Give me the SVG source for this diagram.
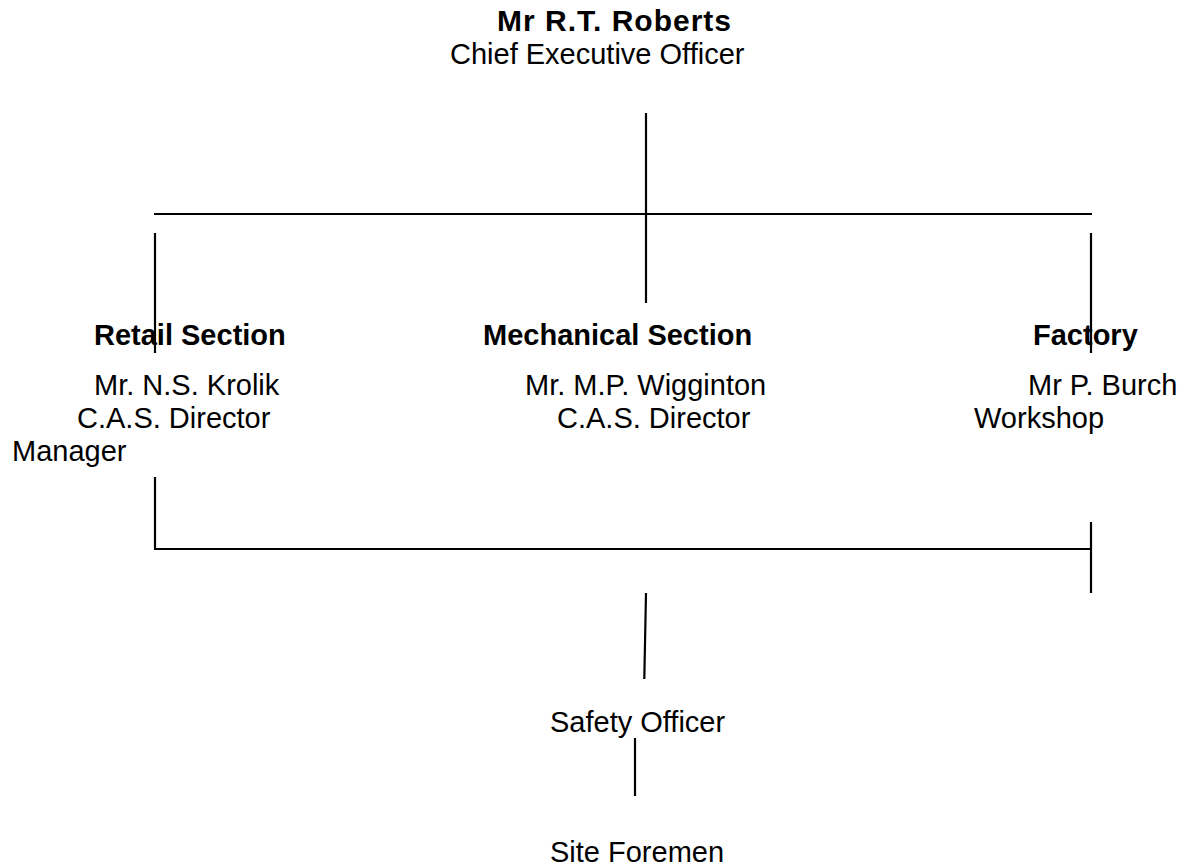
<svg xmlns="http://www.w3.org/2000/svg" width="1192" height="868" viewBox="0 0 1192 868">
<style>
text{font-family:"Liberation Sans",Arial,sans-serif;font-size:29px;fill:#000}
.b{font-weight:bold}
.c line{stroke:#000;stroke-width:2.2;fill:none}
</style>
<rect width="1192" height="868" fill="#fff"/>
<g class="c" id="connectors">
<line x1="646" y1="113" x2="646" y2="303"/>
<line x1="154" y1="214" x2="1092" y2="214"/>
<line x1="155" y1="233" x2="155" y2="353"/>
<line x1="1091" y1="233" x2="1091" y2="353"/>
<line x1="155" y1="477" x2="155" y2="549"/>
<line x1="154" y1="549" x2="1091" y2="549"/>
<line x1="1091" y1="522" x2="1091" y2="593"/>
<line x1="646" y1="593" x2="644.3" y2="679"/>
<line x1="635" y1="738" x2="635" y2="796"/>
</g>
<g id="ceo">
<text class="b" x="497" y="31" style="font-size:30px;letter-spacing:1px">Mr R.T. Roberts</text>
<text x="450" y="64">Chief Executive Officer</text>
</g>
<g id="retail">
<text class="b" x="94" y="345">Retail Section</text>
<text x="94" y="395">Mr. N.S. Krolik</text>
<text x="77" y="428">C.A.S. Director</text>
<text x="12" y="461">Manager</text>
</g>
<g id="mechanical">
<text class="b" x="483" y="345">Mechanical Section</text>
<text x="525" y="395">Mr. M.P. Wigginton</text>
<text x="557" y="428">C.A.S. Director</text>
</g>
<g id="factory">
<text class="b" x="1033" y="345">Factory</text>
<text x="1028" y="395">Mr P. Burch</text>
<text x="974" y="428">Workshop</text>
</g>
<g id="safety">
<text x="550" y="732">Safety Officer</text>
</g>
<g id="foremen">
<text x="550" y="862">Site Foremen</text>
</g>
</svg>
